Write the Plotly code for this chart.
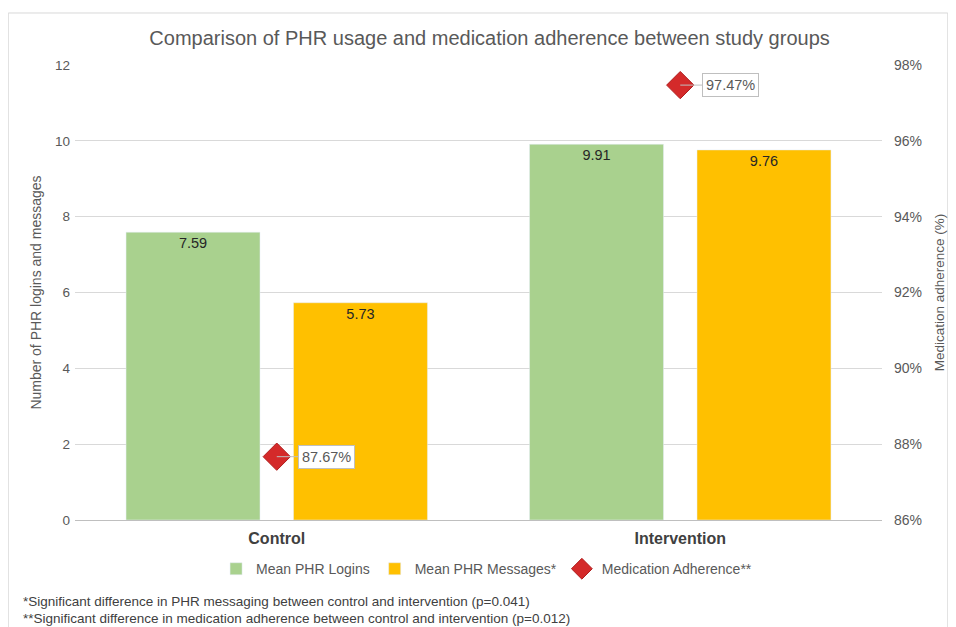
import plotly.graph_objects as go

groups = ["Control", "Intervention"]
logins = [7.59, 9.91]
messages = [5.73, 9.76]
adherence = [87.67, 97.47]
footnotes = [
    "*Significant difference in PHR messaging between control and intervention (p=0.041)",
    "**Significant difference in medication adherence between control and intervention (p=0.012)",
]

FONT = "Liberation Sans, Arial, sans-serif"
GRAY = "#595959"

fig = go.Figure()
fig.add_trace(go.Bar(
    x=groups, y=logins, name="Mean PHR Logins", marker_color="#A9D18E",
    text=[f"{v:.2f}" for v in logins], textposition="inside", insidetextanchor="end",
    textfont=dict(color="#262626", size=14.5),
))
fig.add_trace(go.Bar(
    x=groups, y=messages, name="Mean PHR Messages*", marker_color="#FFC000",
    text=[f"{v:.2f}" for v in messages], textposition="inside", insidetextanchor="end",
    textfont=dict(color="#262626", size=14.5),
))
fig.add_trace(go.Scatter(
    x=groups, y=adherence, name="Medication Adherence**", yaxis="y2", mode="markers",
    marker=dict(symbol="diamond", size=21, color="#D42A2A", line=dict(color="#B01E1E", width=1)),
))

for g, a in zip(groups, adherence):
    fig.add_annotation(
        x=g, y=a, xref="x", yref="y2", text=f"{a:.2f}%", showarrow=True,
        ax=50, ay=0, arrowhead=0, arrowcolor="#BFBFBF", arrowwidth=1,
        bgcolor="white", bordercolor="#BFBFBF", borderwidth=1, borderpad=3,
        font=dict(size=14.5, color=GRAY, family=FONT),
    )

foot_y = [-0.180, -0.2165]
for t, fy in zip(footnotes, foot_y):
    fig.add_annotation(
        x=-0.0654, y=fy, xref="paper", yref="paper", text=t,
        showarrow=False, xanchor="left", yanchor="middle", borderpad=0,
        font=dict(size=13.5, color="#404040", family=FONT),
    )

fig.add_shape(type="rect", xref="paper", yref="paper",
              x0=-0.0827, x1=1.0815, y0=-0.25, y1=1.1143,
              line=dict(color="#D9D9D9", width=1), layer="below")

fig.update_layout(
    width=948, height=619,
    margin=dict(l=67, r=71, t=57, b=107),
    paper_bgcolor="white", plot_bgcolor="white",
    font=dict(family=FONT, color=GRAY, size=13),
    title=dict(text="Comparison of PHR usage and medication adherence between study groups",
               x=0.508, xanchor="center", y=0.952, yanchor="middle",
               font=dict(size=20, color=GRAY, family=FONT)),
    barmode="group", bargap=0.17, bargroupgap=0.2,
    showlegend=True,
    legend=dict(orientation="h", x=0.51, xanchor="center", y=-0.108, yanchor="middle",
                font=dict(size=14, color=GRAY), itemwidth=30, tracegroupgap=0),
    xaxis=dict(showgrid=False, showline=True, linecolor="#BFBFBF", linewidth=1,
               tickfont=dict(size=16, color="#404040", family=FONT),
               ticks="", tickprefix="<b>", ticksuffix="</b>", ticklabelstandoff=4),
    yaxis=dict(range=[0, 12], dtick=2, showgrid=True, gridcolor="#D9D9D9", zeroline=False,
               ticks="", tickfont=dict(size=13.5, color=GRAY), ticklabelstandoff=4,
               title=dict(text="Number of PHR logins and messages", font=dict(size=14, color=GRAY),
                          standoff=10)),
    yaxis2=dict(range=[86, 98], dtick=2, overlaying="y", side="right", showgrid=False,
                zeroline=False, ticksuffix="%", ticks="", tickfont=dict(size=14, color=GRAY),
                ticklabelstandoff=11,
                title=dict(text="Medication adherence (%)", font=dict(size=13.5, color=GRAY),
                           standoff=13)),
)

fig.write_html("out.html")
